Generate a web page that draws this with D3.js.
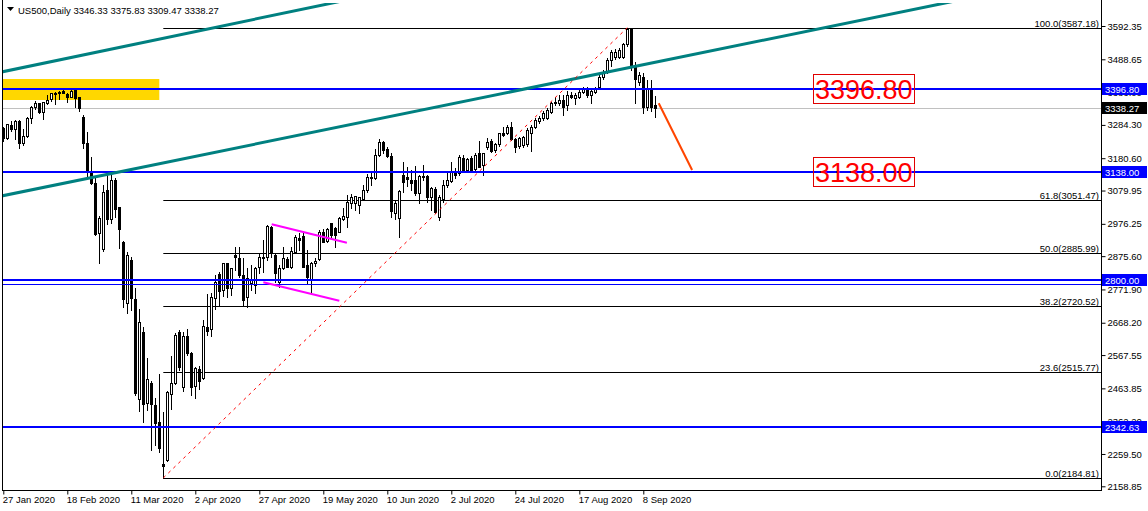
<!DOCTYPE html>
<html><head><meta charset="utf-8">
<script src="https://cdn.jsdelivr.net/npm/d3@7"></script>
<style>
body{margin:0;background:#fff;}
svg{display:block;font-family:"Liberation Sans",Arial,sans-serif;}
</style>
</head><body>
<svg id="c" width="1148" height="511"></svg>
<script>
// ---------------- DATA ----------------
const symbolName = "US500,Daily";
const lastBar = [3346.33, 3375.83, 3309.47, 3338.27];

const dateLabelIdx = [0, 16, 32, 48, 64, 80, 96, 112, 128, 144, 160];
const dateLabels = ["27 Jan 2020","18 Feb 2020","11 Mar 2020","2 Apr 2020","27 Apr 2020","19 May 2020","10 Jun 2020","2 Jul 2020","24 Jul 2020","17 Aug 2020","8 Sep 2020"];

const priceTicks = [3592.35, 3488.65, 3386.00, 3284.30, 3180.60, 3079.95, 2976.25, 2875.60, 2771.90, 2668.20, 2567.55, 2463.85, 2362.20, 2259.50, 2158.85];

const opens = [3274,3243,3284,3272,3296,3227,3249,3305,3339,3352,
3326,3354,3364,3385,3384,3391,3381,3372,3393,3371,
3309,3227,3140,3103,2947,2897,3082,2992,3113,3028,
2920,2729,2864,2741,2430,2640,2419,2480,2412,2360,
2228,2241,2445,2482,2638,2469,2627,2573,2472,2523,
2495,2654,2648,2744,2820,2770,2853,2777,2879,2869,
2817,2749,2793,2786,2843,2874,2874,2967,2879,2796,
2838,2866,2843,2890,2931,2938,2848,2801,2853,2866,
2950,2923,2978,2962,2952,2990,2998,3040,3040,3035,
3053,3082,3118,3118,3191,3232,3208,3187,3011,2994,
3128,3123,3113,3113,3071,3125,3125,3059,3084,2997,
3053,3097,3111,3139,3134,3180,3144,3180,3146,3196,
3160,3215,3235,3206,3225,3260,3260,3279,3240,3219,
3222,3225,3260,3279,3297,3306,3305,3326,3352,3352,
3362,3346,3378,3367,3372,3388,3395,3378,3388,3403,
3433,3450,3487,3495,3497,3497,3536,3582,3466,3419,
3435,3339,3399,3346.33];

const highs = [3279,3288,3296,3300,3300,3271,3308,3342,3358,3354,
3357,3378,3385,3387,3391,3397,3383,3397,3397,3372,
3315,3262,3183,3118,3002,3096,3138,3128,3118,3030,
2922,2890,2872,2776,2710,2654,2558,2487,2433,2509,
2391,2457,2565,2635,2646,2640,2648,2577,2531,2534,
2677,2758,2760,2817,2827,2854,2855,2839,2903,2905,
2869,2838,2848,2843,2885,2926,2973,2970,2885,2848,
2903,2874,2905,2942,2947,2947,2895,2856,2869,2957,
2960,2963,2980,2967,2997,3025,3066,3068,3063,3061,
3097,3131,3139,3208,3240,3235,3217,3198,3050,3082,
3170,3154,3144,3156,3128,3160,3128,3092,3092,3066,
3113,3134,3170,3150,3191,3191,3182,3188,3196,3235,
3198,3243,3240,3229,3240,3279,3284,3294,3243,3248,
3250,3274,3284,3306,3312,3328,3336,3357,3370,3378,
3378,3391,3387,3384,3393,3402,3402,3396,3403,3440,
3455,3493,3518,3521,3525,3539,3587.18,3585,3480,3449,
3445,3425,3425,3375.83];

const lows = [3235,3240,3265,3241,3213,3223,3247,3291,3335,3322,
3304,3349,3360,3349,3366,3384,3357,3370,3341,3329,
3213,3123,3101,2940,2855,2892,2976,2978,2998,2902,
2718,2700,2708,2443,2394,2360,2397,2272,2288,2267,
2184.81,2238,2400,2477,2521,2457,2568,2443,2435,2461,
2493,2630,2628,2710,2720,2752,2749,2755,2832,2812,
2723,2718,2770,2760,2822,2827,2864,2874,2796,2780,
2836,2841,2838,2886,2895,2842,2791,2765,2845,2864,
2919,2919,2936,2905,2950,2988,2967,3024,3019,3011,
3050,3075,3097,3116,3187,3196,3183,2998,2991,2936,
3076,3094,3082,3066,3040,3113,3045,3019,3010,2988,
3045,3091,3107,3119,3128,3138,3138,3138,3138,3153,
3128,3209,3200,3200,3219,3250,3256,3237,3201,3212,
3216,3219,3204,3275,3290,3300,3303,3321,3346,3346,
3315,3331,3368,3349,3368,3384,3371,3352,3384,3399,
3427,3446,3468,3490,3493,3493,3530,3455,3352,3409,
3321,3330,3329,3309.47];

const closes = [3243,3286,3272,3296,3229,3249,3305,3339,3352,3326,
3355,3362,3383,3380,3386,3385,3372,3389,3369,3338,
3229,3140,3103,2946,2994,3075,2992,3114,3022,2961,
2741,2878,2744,2449,2672,2415,2493,2415,2355,2277,
2223,2452,2480,2630,2531,2627,2575,2469,2527,2488,
2658,2643,2748,2794,2768,2853,2777,2838,2874,2817,
2739,2808,2801,2838,2874,2869,2970,2890,2822,2838,
2869,2843,2892,2936,2926,2843,2811,2855,2860,2950,
2921,2960,2942,2942,2993,3001,3045,3061,3063,3061,
3082,3121,3123,3191,3232,3206,3188,3017,3040,3080,
3105,3115,3104,3071,3125,3123,3061,3087,3014,3061,
3097,3113,3139,3128,3184,3144,3177,3139,3191,3154,
3196,3232,3204,3225,3258,3253,3279,3240,3215,3243,
3248,3269,3279,3300,3306,3321,3331,3352,3357,3362,
3341,3378,3370,3378,3388,3395,3377,3391,3398,3435,
3450,3487,3512,3512,3518,3536,3582,3466,3427,3440,
3339,3399,3339,3338.27];

// horizontal levels
const blueLevels = [3396.80, 3138.00, 2800.00, 2342.63];
const thinBlueLevels = [2790.00];
const bidPrice = 3338.27;

// Fibonacci retracement
const fibPct = ["100.0","61.8","50.0","38.2","23.6","0.0"];
const fibPrices = [3587.18, 3051.47, 2885.99, 2720.52, 2515.77, 2184.81];
const fibAnchorIdx = [40, 156];
const fibAnchorPrice = [2184.81, 3587.18];

// trend lines: [idx1, price1, idx2, price2]
const tealLines = [[-2, 3445.2, 100, 3710.0], [-2, 3059.1, 240, 3675.5]];
const magentaLines = [[67.1, 2974.8, 85.9, 2917.5], [65.0, 2794.2, 84.0, 2737.0]];
const arrowLine = [163.85, 3351.6, 172.2, 3144.0];

// zone rectangle: [idx1, price1, idx2, price2]
const zoneRect = [-0.1, 3427.3, 39.0, 3361.9];

// big text labels
const bigLabels = [{idx: 202.4, price: 3396.80, text: "3396.80"}, {idx: 202.4, price: 3138.00, text: "3138.00"}];

// ---------------- DRAW ----------------
const svg = d3.select("#c");
const plotL = 2, plotR = 1101, plotB = 490, plotT = 3;

const x = d3.scaleLinear().domain([0, 163]).range([3.3, 655.3]);
const y = d3.scaleLinear().domain([2158.85, 3592.35]).range([486.3, 26]);

svg.append("rect").attr("width", 1148).attr("height", 511).attr("fill", "#fff");

const defs = svg.append("defs");
defs.append("clipPath").attr("id", "plot")
  .append("rect").attr("x", plotL).attr("y", plotT).attr("width", plotR - plotL).attr("height", plotB - plotT);

const g = svg.append("g").attr("clip-path", "url(#plot)");

// zone
g.append("rect")
  .attr("x", x(zoneRect[0])).attr("y", y(zoneRect[1]))
  .attr("width", x(zoneRect[2]) - x(zoneRect[0]))
  .attr("height", y(zoneRect[3]) - y(zoneRect[1]))
  .attr("fill", "#FFD700");

// bid line
g.append("line").attr("x1", plotL).attr("x2", plotR)
  .attr("y1", Math.round(y(bidPrice)) + 0.5).attr("y2", Math.round(y(bidPrice)) + 0.5)
  .attr("stroke", "#C0C0C0").attr("stroke-width", 1);

// fib lines
fibPrices.forEach((p, i) => {
  const yy = Math.round(y(p)) + 0.5;
  g.append("line").attr("x1", x(fibAnchorIdx[0])).attr("x2", plotR)
    .attr("y1", yy).attr("y2", yy).attr("stroke", "#000").attr("stroke-width", 1);
  g.append("text").attr("x", plotR - 2).attr("y", yy - 2)
    .attr("text-anchor", "end").attr("font-size", "9.5px").attr("fill", "#000")
    .text(fibPct[i] + "(" + p.toFixed(2) + ")");
});

// candles
const candles = g.append("g");
opens.forEach((o, i) => {
  const c = closes[i], h = highs[i], l = lows[i];
  const cx = Math.round(x(i));
  candles.append("line").attr("x1", cx + 0.5).attr("x2", cx + 0.5)
    .attr("y1", Math.round(y(h))).attr("y2", Math.round(y(l)) + 1)
    .attr("stroke", "#000").attr("stroke-width", 1);
  const top = Math.round(y(Math.max(o, c)));
  const bot = Math.round(y(Math.min(o, c)));
  if (c >= o) {
    candles.append("rect").attr("x", cx - 0.5).attr("y", top + 0.5)
      .attr("width", 2).attr("height", Math.max(bot - top, 0.01))
      .attr("fill", "#fff").attr("stroke", "#000").attr("stroke-width", 1);
  } else {
    candles.append("rect").attr("x", cx - 1).attr("y", top)
      .attr("width", 3).attr("height", Math.max(bot - top + 1, 1))
      .attr("fill", "#000");
  }
});

// blue levels
blueLevels.forEach(p => {
  const yy = Math.round(y(p));
  g.append("line").attr("x1", plotL).attr("x2", plotR).attr("y1", yy).attr("y2", yy)
    .attr("stroke", "#0000FF").attr("stroke-width", 2);
});
thinBlueLevels.forEach(p => {
  const yy = Math.round(y(p)) + 0.5;
  g.append("line").attr("x1", plotL).attr("x2", plotR).attr("y1", yy).attr("y2", yy)
    .attr("stroke", "#0000FF").attr("stroke-width", 1);
});

// teal channel
tealLines.forEach(t => {
  g.append("line").attr("x1", x(t[0])).attr("y1", y(t[1])).attr("x2", x(t[2])).attr("y2", y(t[3]))
    .attr("stroke", "#008080").attr("stroke-width", 3);
});

// fib diagonal
g.append("line")
  .attr("x1", x(fibAnchorIdx[0])).attr("y1", y(fibAnchorPrice[0]))
  .attr("x2", x(fibAnchorIdx[1])).attr("y2", y(fibAnchorPrice[1]))
  .attr("stroke", "#FF0000").attr("stroke-width", 1).attr("stroke-dasharray", "3,4");

// magenta
magentaLines.forEach(t => {
  g.append("line").attr("x1", x(t[0])).attr("y1", y(t[1])).attr("x2", x(t[2])).attr("y2", y(t[3]))
    .attr("stroke", "#FF00FF").attr("stroke-width", 2);
});

// arrow line
g.append("line").attr("x1", x(arrowLine[0])).attr("y1", y(arrowLine[1]))
  .attr("x2", x(arrowLine[2])).attr("y2", y(arrowLine[3]))
  .attr("stroke", "#FF4500").attr("stroke-width", 2);

// big labels
bigLabels.forEach(b => {
  const gx = x(b.idx), gy = y(b.price);
  const t = g.append("text").attr("x", gx + 2).attr("y", gy + 10)
    .attr("font-size", "27px").attr("fill", "#FF0000").text(b.text);
  const bb = t.node().getBBox();
  g.insert("rect", () => t.node())
    .attr("x", Math.round(gx) + 0.5).attr("y", Math.round(gy - 14.5) + 0.5)
    .attr("width", Math.round(bb.width + 3)).attr("height", 29)
    .attr("fill", "none").attr("stroke", "#E00000").attr("stroke-width", 1);
});

// frame
svg.append("line").attr("x1", plotL + 0.5).attr("x2", plotL + 0.5).attr("y1", 0).attr("y2", plotB + 0.5).attr("stroke", "#000");
svg.append("line").attr("x1", plotL).attr("x2", plotR + 1).attr("y1", plotB + 0.5).attr("y2", plotB + 0.5).attr("stroke", "#000");
svg.append("line").attr("x1", plotR + 0.5).attr("x2", plotR + 0.5).attr("y1", 0).attr("y2", plotB + 0.5).attr("stroke", "#000");

// right axis
const yAxis = d3.axisRight(y).tickValues(priceTicks).tickSize(4).tickFormat(d => d.toFixed(2));
const ya = svg.append("g").attr("transform", `translate(${plotR + 0.5},0)`).call(yAxis);
ya.select(".domain").remove();
ya.selectAll(".tick line").attr("stroke", "#000");
ya.selectAll(".tick text").attr("font-size", "9.5px").attr("font-family", "Liberation Sans, Arial, sans-serif").attr("fill", "#000").attr("x", 6);

// bottom axis
const xAxis = d3.axisBottom(x).tickValues(dateLabelIdx).tickSize(4).tickFormat((d, i) => dateLabels[i]);
const xa = svg.append("g").attr("transform", `translate(0,${plotB + 0.5})`).call(xAxis);
xa.select(".domain").remove();
xa.selectAll(".tick line").attr("stroke", "#000");
xa.selectAll(".tick text").attr("font-size", "9.5px").attr("font-family", "Liberation Sans, Arial, sans-serif")
  .attr("fill", "#000").attr("text-anchor", "start").attr("x", -1).attr("y", 6);

// price boxes on axis
function priceBox(p, color) {
  const yy = Math.round(y(p));
  const gb = svg.append("g");
  gb.append("rect").attr("x", plotR + 1).attr("y", yy - 6).attr("width", 45).attr("height", 12).attr("fill", color);
  gb.append("text").attr("x", plotR + 4).attr("y", yy + 3.5).attr("font-size", "9.5px").attr("fill", "#fff").text(p.toFixed(2));
}
blueLevels.forEach(p => priceBox(p, "#0000FF"));
priceBox(bidPrice, "#000");

// title
svg.append("path").attr("d", "M7,7 L14,7 L10.5,11 Z").attr("fill", "#000");
svg.append("text").attr("x", 18).attr("y", 13.5).attr("font-size", "9.5px").attr("fill", "#000")
  .text(symbolName + "  " + lastBar.map(v => v.toFixed(2)).join(" "));
</script>
</body></html>
